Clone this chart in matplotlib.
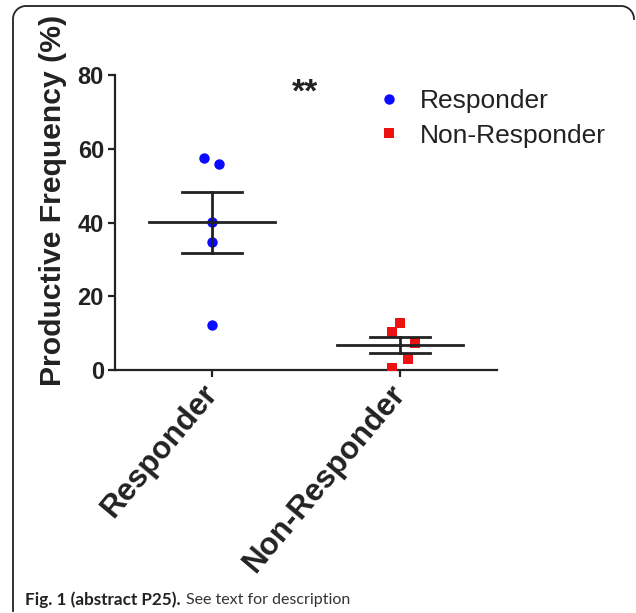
import numpy as np
import matplotlib
matplotlib.use('Agg')
import matplotlib.pyplot as plt
from matplotlib.lines import Line2D

# data
groups = ['Responder', 'Non-Responder']
responder = [57.6, 55.8, 40.1, 34.8, 12.2]
non_responder = [12.7, 10.4, 7.2, 3.0, 0.5]
resp_jitter = [-0.043, 0.037, 0.0, 0.0, 0.0]
nonresp_jitter = [0.0, -0.04, 0.08, 0.043, -0.04]
yticks = [0, 20, 40, 60, 80]

W, H = 636, 613
fig = plt.figure(figsize=(W / 100, H / 100), dpi=100)
plt.rcParams['font.family'] = ['Liberation Sans', 'DejaVu Sans']

ax = fig.add_axes([115 / W, 1 - 370 / H, 382 / W, 295 / H])
ax.set_xlim(0.484, 2.516)
ax.set_ylim(0, 80)

ink = '#222222'
series = [(responder, resp_jitter, '#0a0aff', 'o', 7.5),
          (non_responder, nonresp_jitter, '#ee1111', 's', 6.5)]
for i, (vals, jit, col, mk, ms) in enumerate(series):
    xpos = i + 1
    ax.plot(np.array(jit) + xpos, vals, linestyle='none', marker=mk,
            color=col, markersize=ms, markeredgewidth=0, label=groups[i], zorder=3)
    v = np.array(vals)
    m = v.mean()
    sem = v.std(ddof=1) / np.sqrt(len(v))
    ax.plot([xpos - 0.335, xpos + 0.335], [m, m], color=ink, lw=2, zorder=4)
    ax.plot([xpos, xpos], [m - sem, m + sem], color=ink, lw=2, zorder=4)
    for yy in (m - sem, m + sem):
        ax.plot([xpos - 0.162, xpos + 0.162], [yy, yy], color=ink, lw=2, zorder=4)

ax.text(1.495, 75, '**', ha='center', va='center', fontsize=24,
        fontweight='bold', color=ink)

for s in ['top', 'right']:
    ax.spines[s].set_visible(False)
for s in ['left', 'bottom']:
    ax.spines[s].set_linewidth(1.6)
    ax.spines[s].set_color(ink)

ax.set_yticks(yticks)
ax.set_yticklabels([str(t) for t in yticks], fontsize=17, fontweight='bold')
ax.set_xticks([1, 2])
ax.set_xticklabels(groups, fontsize=22.5, fontweight='bold', rotation=50,
                   ha='right', va='center', rotation_mode='anchor')
ax.tick_params(axis='both', length=5, width=1.6, color=ink, labelcolor=ink, pad=3)
ax.tick_params(axis='x', pad=8)
ax.set_ylabel('Productive Frequency (%)', fontsize=21.7, fontweight='bold',
              color=ink)
ax.yaxis.set_label_coords(-0.125, 0.576)

ax.legend(loc='upper left', bbox_to_anchor=(378 / W, 1 - 89 / H),
          bbox_transform=fig.transFigure, frameon=False, fontsize=19,
          handlelength=0.8, handletextpad=0.8, labelspacing=0.4,
          borderpad=0, borderaxespad=0, labelcolor=ink)

# caption: bold part, then regular part right after it
cap_y = 1 - 600 / H
t1 = fig.text(25 / W, cap_y, 'Fig. 1 (abstract P25).', family='Lato',
              fontsize=12.3, fontweight='bold', color='#222222', va='center')
fig.canvas.draw()
bb = t1.get_window_extent()
fig.text((bb.x1 + 5) / W, cap_y, 'See text for description', family='Lato',
         fontsize=11.5, color='#333333', va='center')

# rounded frame (top edge and left edge)
r = 13
t = np.linspace(0, np.pi / 2, 20)
px = [13] + list(13 + r - r * np.cos(t)) + [634 - r]
py = [611] + list(6 + r - r * np.sin(t)) + [6]
px += list(634 - r + r * np.sin(t))
py += list(6 + r - r * np.cos(t))
px = np.array(px) / W
py = 1 - np.array(py) / H
fig.add_artist(Line2D(px, py, color='#222222', lw=1.3, transform=fig.transFigure))

fig.savefig('out.png', dpi=100, facecolor='white')
